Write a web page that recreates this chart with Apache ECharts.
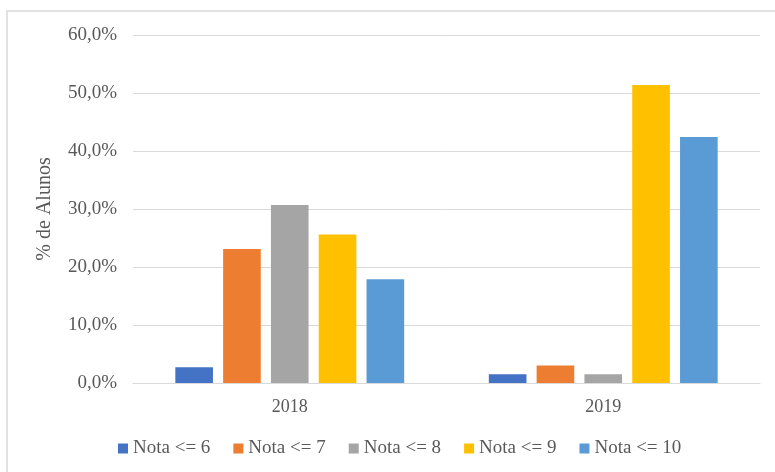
<!DOCTYPE html>
<html>
<head>
<meta charset="utf-8">
<script src="https://cdn.jsdelivr.net/npm/echarts@6/dist/echarts.min.js"></script>
<style>
	html, body { margin: 0; padding: 0; background: #fff; }
	#chart { width: 775px; height: 472px; }
</style>
</head>
<body>
<div id="chart"></div>
<script>
	/* data */
	var years = ['2018', '2019'];
	var seriesNames = ['Nota <= 6', 'Nota <= 7', 'Nota <= 8', 'Nota <= 9', 'Nota <= 10'];
	var nota6 = [2.7, 1.5];
	var nota7 = [23.1, 3.0];
	var nota8 = [30.7, 1.5];
	var nota9 = [25.6, 51.4];
	var nota10 = [17.9, 42.4];
	var colors = ['#4472C4', '#ED7D31', '#A5A5A5', '#FFC000', '#5B9BD5'];

	var font = "Liberation Serif";
	var values = [nota6, nota7, nota8, nota9, nota10];

	var series = seriesNames.map(function(name, i) {
		return {
			name: name,
			type: 'bar',
			data: values[i],
			barGap: '27%',
			barCategoryGap: '27%'
		};
	});

	var chart = echarts.init(document.getElementById('chart'));
	var option = {
		animation: false,
		color: colors,
		textStyle: { fontFamily: font },
		graphic: [{
			type: 'rect',
			shape: { x: 7, y: 11, width: 780, height: 470 },
			style: { fill: 'none', stroke: '#d9d9d9', lineWidth: 1.5 },
			silent: true
		}],
		grid: {
			top: 35,
			left: 133,
			right: 15,
			bottom: 89
		},
		legend: {
			left: 118,
			top: 439,
			padding: 0,
			itemWidth: 10,
			itemHeight: 10,
			itemGap: 23,
			icon: 'rect',
			textStyle: {
				fontFamily: font,
				fontSize: 19,
				color: '#595959'
			}
		},
		xAxis: {
			type: 'category',
			data: years,
			axisTick: { show: false },
			axisLine: { lineStyle: { color: '#d9d9d9', width: 1 } },
			axisLabel: {
				margin: 15,
				fontFamily: font,
				fontSize: 18,
				color: '#595959'
			}
		},
		yAxis: {
			type: 'value',
			min: 0,
			max: 60,
			interval: 10,
			name: '% de Alunos',
			nameLocation: 'middle',
			nameGap: 78,
			nameTextStyle: {
				fontFamily: font,
				fontSize: 20,
				color: '#595959'
			},
			axisLine: { show: false },
			axisTick: { show: false },
			splitLine: { lineStyle: { color: '#d9d9d9', width: 1 } },
			axisLabel: {
				margin: 16,
				fontFamily: font,
				fontSize: 19,
				color: '#595959',
				formatter: function(v) {
					return v.toFixed(1).replace('.', ',') + '%';
				}
			}
		},
		series: series
	};
	chart.setOption(option);
</script>
</body>
</html>
